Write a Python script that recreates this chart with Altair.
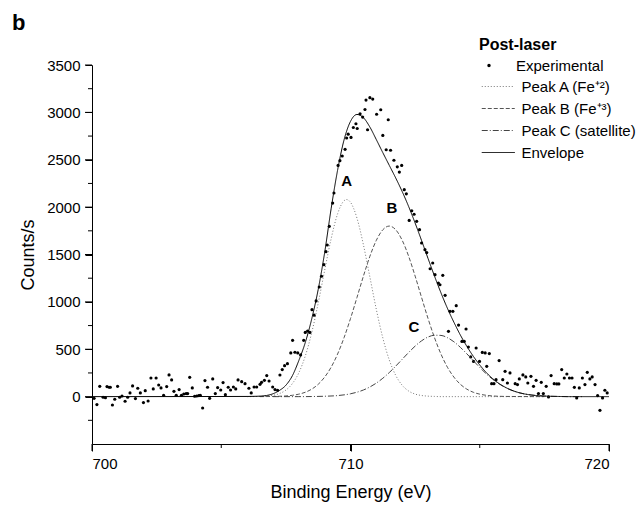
import altair as alt
import pandas as pd

# ---------------- data ----------------
energy = [
    700.08, 700.19, 700.30, 700.43, 700.52, 700.58, 700.66, 700.71, 700.79, 700.88,
    700.99, 701.07, 701.16, 701.28, 701.38, 701.47, 701.57, 701.68, 701.77, 701.87,
    701.99, 702.06, 702.17, 702.28, 702.37, 702.48, 702.58, 702.67, 702.77, 702.89,
    702.98, 703.08, 703.17, 703.26, 703.37, 703.46, 703.55, 703.64, 703.70, 703.78,
    703.88, 703.97, 704.05, 704.13, 704.19, 704.28, 704.37, 704.47, 704.55, 704.67,
    704.77, 704.86, 704.98, 705.07, 705.16, 705.27, 705.36, 705.47, 705.56, 705.65,
    705.79, 705.92, 706.07, 706.16, 706.27, 706.37, 706.50, 706.56, 706.67, 706.76,
    706.85, 706.99, 707.08, 707.18, 707.27, 707.36, 707.45, 707.56, 707.69, 707.76,
    707.85, 707.96, 708.07, 708.19, 708.25, 708.34, 708.43, 708.51, 708.59, 708.67,
    708.79, 708.88, 708.97, 709.05, 709.10, 709.18, 709.31, 709.36, 709.52, 709.59,
    709.68, 709.79, 709.85, 709.91, 710.02, 710.11, 710.21, 710.26, 710.37, 710.47,
    710.56, 710.60, 710.66, 710.75, 710.86, 711.01, 711.17, 711.25, 711.38, 711.46,
    711.55, 711.68, 711.81, 711.89, 711.98, 712.08, 712.16, 712.27, 712.37, 712.46,
    712.56, 712.67, 712.75, 712.88, 712.95, 713.08, 713.18, 713.27, 713.40, 713.46,
    713.57, 713.66, 713.79, 713.85, 713.96, 714.09, 714.18, 714.31, 714.40, 714.47,
    714.56, 714.65, 714.76, 714.86, 714.99, 715.10, 715.21, 715.27, 715.37, 715.46,
    715.55, 715.63, 715.75, 715.89, 715.98, 716.07, 716.17, 716.37, 716.46, 716.53,
    716.67, 716.78, 716.86, 716.98, 717.08, 717.18, 717.27, 717.38, 717.46, 717.57,
    717.66, 717.76, 717.88, 717.98, 718.06, 718.17, 718.27, 718.37, 718.47, 718.57,
    718.66, 718.75, 718.85, 718.97, 719.07, 719.16, 719.26, 719.35, 719.46, 719.56,
    719.65, 719.75, 719.84, 719.93,
]
counts = [
    -18, -84, 109, -7, -11, 106, 99, 99, -88, -28,
    109, -7, 7, -49, -7, 39, 113, -21, 88, 39,
    -63, 63, -46, 197, 81, 197, 123, 92, 14, 106,
    229, 176, 56, 14, 74, 14, 28, 32, 32, 204,
    92, 4, 7, 11, 14, -120, 169, 99, -18, 187,
    32, 95, 70, 148, 21, 99, 70, 102, 81, 176,
    158, 137, 88, 39, 102, 102, 130, 151, 172, 222,
    165, 102, 74, 67, 228, 285, 327, 348, 461, 594,
    468, 461, 440, 594, 678, 693, 678, 918, 860, 1010,
    1157, 1270, 1393, 1530, 1600, 1797, 2043, 2149, 2440, 2490,
    2540, 2610, 2730, 2770, 2736, 2840, 2880, 2830, 2985, 2950,
    3030, 3130, 2817, 3155, 3140, 2980, 3028, 2757, 2606, 2922,
    2600, 2495, 2425, 2370, 2440, 2184, 2140, 1860, 1962, 1925,
    1850, 1762, 1621, 1551, 1520, 1350, 1410, 1287, 1199, 1181,
    1280, 1069, 689, 900, 900, 960, 755, 583, 583, 714,
    524, 419, 372, 513, 372, 467, 461, 320, 454, 137,
    137, 179, 380, 179, 267, 144, 250, 137, 127, 187,
    229, 208, 144, 214, 109, 172, 32, 151, 32, 109,
    -3, 222, 137, 134, 134, 285, 197, 239, 197, 197,
    98, -14, 92, 197, 127, 256, 187, 208, 127, 11,
    -145, -14, 67, 39,
]

# fitted components, values
peak_a_x = [706.0, 706.5, 706.75, 707.0, 707.25, 707.5, 707.75, 708.0, 708.25, 708.5,
            708.75, 709.0, 709.25, 709.5, 709.75, 709.85, 710.0, 710.25, 710.5, 710.75,
            711.0, 711.25, 711.5, 711.75, 712.0, 712.25, 712.5, 712.75, 713.0, 713.25,
            713.5, 714.0, 717.5]
peak_a_y = [0, 2, 6, 14, 32, 69, 137, 251, 428, 675,
            986, 1332, 1665, 1929, 2067, 2080, 2051, 1884, 1602, 1262,
            919, 620, 387, 224, 120, 59, 27, 12, 5, 2,
            0, 0, 0]

peak_b_x = [706.5, 707.0, 707.5, 707.75, 708.0, 708.25, 708.5, 708.75, 709.0, 709.25,
            709.5, 709.75, 710.0, 710.25, 710.5, 710.75, 711.0, 711.25, 711.5, 711.75,
            712.0, 712.25, 712.5, 712.75, 713.0, 713.25, 713.5, 713.75, 714.0, 714.25,
            714.5, 714.75, 715.0, 715.25, 715.5, 716.0, 717.5]
peak_b_y = [0, 2, 7, 14, 26, 46, 79, 130, 206, 310,
            449, 622, 824, 1046, 1272, 1481, 1650, 1761, 1800, 1761,
            1650, 1481, 1272, 1046, 824, 622, 449, 310, 206, 130,
            79, 46, 26, 14, 7, 2, 0]

peak_c_x = [707.0, 708.0, 708.5, 709.0, 709.5, 710.0, 710.5, 710.75, 711.0, 711.25,
            711.5, 711.75, 712.0, 712.25, 712.5, 712.75, 713.0, 713.25, 713.5, 713.75,
            714.0, 714.25, 714.5, 714.75, 715.0, 715.25, 715.5, 715.75, 716.0, 716.5,
            717.0, 717.5, 718.0, 718.5, 719.0]
peak_c_y = [0, 0, 1, 4, 11, 30, 70, 102, 143, 194,
            254, 322, 394, 466, 533, 589, 629, 648, 646, 622,
            579, 520, 452, 380, 308, 241, 183, 134, 95, 43,
            17, 6, 2, 0, 0]

envelope_x = [700.0, 706.0, 706.5, 706.75, 707.0, 707.25, 707.5, 707.75, 708.0, 708.25,
              708.5, 708.75, 709.0, 709.25, 709.5, 709.75, 710.0, 710.25, 710.5, 710.75,
              711.0, 711.25, 711.5, 711.75, 712.0, 712.25, 712.5, 712.75, 713.0, 713.25,
              713.5, 713.75, 714.0, 714.25, 714.5, 714.75, 715.0, 715.25, 715.5, 715.75,
              716.0, 716.5, 717.0, 717.5, 718.0, 718.5, 720.0]
envelope_y = [0, 2, 5, 12, 30, 65, 120, 220, 380, 570,
              820, 1130, 1520, 1982, 2389, 2709, 2905, 2978, 2944, 2845,
              2712, 2575, 2441, 2307, 2164, 2006, 1832, 1647, 1458, 1272,
              1095, 932, 785, 650, 531, 426, 334, 255, 190, 138,
              97, 43, 17, 6, 2, 0, 0]

series_names = ["Peak A (Fe\u207a\u00b2)", "Peak B (Fe\u207a\u00b3)", "Peak C (satellite)", "Envelope"]
series_colors = ["#777777", "#555555", "#444444", "#000000"]
series_dash = [[1, 2], [4, 2], [6, 2, 1, 2], [1, 0]]
series_width = [1, 1, 1, 1.4]

label_text = ["A", "B", "C"]
label_x = [709.85, 711.6, 712.45]
label_y = [2280, 1990, 740]

x_major_ticks = [700, 710, 720]
x_minor_ticks = [705, 715]
y_major_ticks = [0, 500, 1000, 1500, 2000, 2500, 3000, 3500]
y_minor_ticks = [-250, 250, 750, 1250, 1750, 2250, 2750, 3250]

# ---------------- tables ----------------
assert len(energy) == len(counts)
pts = pd.DataFrame({"energy": energy, "counts": counts, "kind": "Experimental"})

rows = []
for name, xs, ys in zip(series_names,
                        [peak_a_x, peak_b_x, peak_c_x, envelope_x],
                        [peak_a_y, peak_b_y, peak_c_y, envelope_y]):
    assert len(xs) == len(ys)
    for xv, yv in zip(xs, ys):
        rows.append({"energy": xv, "counts": yv, "series": name})
lines = pd.DataFrame(rows)

lbl = pd.DataFrame({"energy": label_x, "counts": label_y, "label": label_text})
xt_major = pd.DataFrame({"energy": x_major_ticks})
xt_minor = pd.DataFrame({"energy": x_minor_ticks})
yt_major = pd.DataFrame({"counts": y_major_ticks})
yt_minor = pd.DataFrame({"counts": y_minor_ticks})

FONT = "Liberation Sans"
PLOT_W, PLOT_H = 517, 379
xscale = alt.Scale(domain=[700, 720], nice=False, zero=False)
yscale = alt.Scale(domain=[-500, 3500], nice=False, zero=False)

x_major = alt.Axis(values=x_major_ticks, tickSize=7, tickColor="black", domainColor="black",
                   grid=False, labelFontSize=15, labelPadding=5, labelColor="black",
                   labelFont=FONT, format="d", title="Binding Energy (eV)", titleFontSize=18,
                   titlePadding=12, titleFont=FONT, titleFontWeight="normal", titleColor="black",
                   orient="bottom")
y_major = alt.Axis(values=y_major_ticks, tickSize=7, tickColor="black", domainColor="black",
                   grid=False, labelFontSize=15, labelPadding=5, labelColor="black",
                   labelFont=FONT, format="d", title="Counts/s", titleFontSize=18,
                   titlePadding=9, titleFont=FONT, titleFontWeight="normal", titleColor="black",
                   orient="left")

line_legend = alt.Legend(
    title=None, orient="none", legendX=388.5, legendY=14,
    symbolType="M-6.6,0H6.6", symbolSize=25, symbolStrokeWidth=1,
    symbolOffset=10.25, labelOffset=15.75, rowPadding=6, padding=0,
    labelFontSize=15, labelFont=FONT, labelColor="black",
)

points = alt.Chart(pts).mark_point(filled=True, size=10, opacity=1, color="black").encode(
    x=alt.X("energy:Q", scale=xscale, axis=x_major),
    y=alt.Y("counts:Q", scale=yscale, axis=y_major),
    shape=alt.Shape("kind:N", scale=alt.Scale(domain=["Experimental"], range=["circle"]),
                    legend=alt.Legend(title="Post-laser", orient="none", legendX=387, legendY=-28,
                                      titleFontSize=16, titleFontWeight="bold", titleFont=FONT,
                                      titleColor="black", titlePadding=5, labelFontSize=15,
                                      labelFont=FONT, labelColor="black", symbolSize=12,
                                      symbolFillColor="black", symbolStrokeColor="black",
                                      symbolOffset=2.5, labelOffset=19.5, padding=0)),
)

lines_chart = alt.Chart(lines).mark_line(interpolate="monotone").encode(
    x=alt.X("energy:Q", scale=xscale, axis=None),
    y=alt.Y("counts:Q", scale=yscale, axis=None),
    color=alt.Color("series:N", scale=alt.Scale(domain=series_names, range=series_colors),
                    legend=line_legend),
    strokeDash=alt.StrokeDash("series:N", scale=alt.Scale(domain=series_names, range=series_dash),
                              legend=line_legend),
    strokeWidth=alt.StrokeWidth("series:N", scale=alt.Scale(domain=series_names, range=series_width),
                                legend=None),
)

labels = alt.Chart(lbl).mark_text(fontSize=15, fontWeight="bold", font=FONT, color="black").encode(
    x=alt.X("energy:Q", scale=xscale, axis=None),
    y=alt.Y("counts:Q", scale=yscale, axis=None),
    text="label:N",
)

# tick marks drawn as short rules at the tick values (outside the plot frame)
x_major_rules = alt.Chart(xt_major).mark_rule(color="black", strokeWidth=1).encode(
    x=alt.X("energy:Q", scale=xscale, axis=None),
    y=alt.value(PLOT_H), y2=alt.value(PLOT_H + 7),
)
x_minor_rules = alt.Chart(xt_minor).mark_rule(color="black", strokeWidth=1).encode(
    x=alt.X("energy:Q", scale=xscale, axis=None),
    y=alt.value(PLOT_H), y2=alt.value(PLOT_H + 4),
)
y_major_rules = alt.Chart(yt_major).mark_rule(color="black", strokeWidth=1).encode(
    y=alt.Y("counts:Q", scale=yscale, axis=None),
    x=alt.value(-7), x2=alt.value(0),
)
y_minor_rules = alt.Chart(yt_minor).mark_rule(color="black", strokeWidth=1).encode(
    y=alt.Y("counts:Q", scale=yscale, axis=None),
    x=alt.value(-4), x2=alt.value(0),
)

chart = alt.layer(points, lines_chart, labels,
                  x_major_rules, x_minor_rules, y_major_rules, y_minor_rules).resolve_axis(
    x="independent", y="independent"
).properties(
    width=PLOT_W, height=PLOT_H,
    autosize=alt.AutoSizeParams(type="none"),
    padding={"left": 92, "top": 65, "right": 28, "bottom": 64},
    title=alt.TitleParams("b", anchor="start", frame="group", fontSize=22, fontWeight="bold",
                          font=FONT, color="black", dx=-80, dy=2),
).configure(background="white", view=alt.ViewConfig(stroke=None))

chart.save("out.html", embed_options={"renderer": "svg", "actions": False})
